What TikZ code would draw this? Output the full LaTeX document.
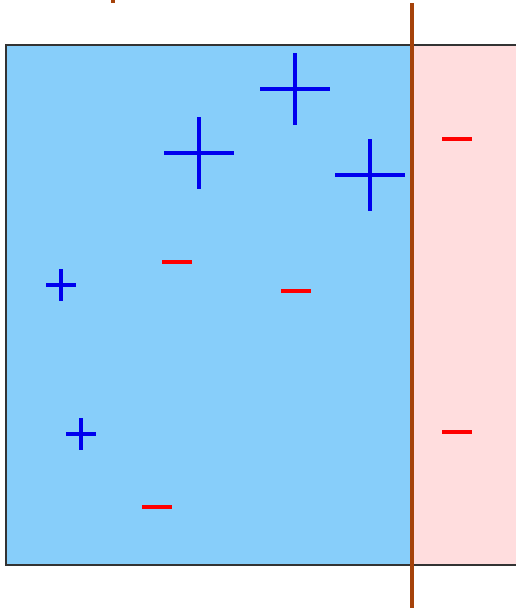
\documentclass[tikz,border=0pt]{standalone}
\definecolor{skyfill}{HTML}{87CEFA}
\definecolor{pinkfill}{HTML}{FFDDDE}
\definecolor{wallbrown}{HTML}{A5420A}
\definecolor{plusblue}{HTML}{0000EE}
\definecolor{minusred}{HTML}{FF0000}
\definecolor{edgegray}{HTML}{333333}
\tikzset{
  pluschg/.style={draw=plusblue, line width=3pt},
  minuschg/.style={draw=minusred, line width=3pt},
}
\newcommand{\bigplus}[2]{\draw[pluschg] (#1-35,#2) -- (#1+35,#2) (#1,#2-36) -- (#1,#2+36);}
\newcommand{\smallplus}[2]{\draw[pluschg] (#1-15,#2) -- (#1+15,#2) (#1,#2-16) -- (#1,#2+16);}
\newcommand{\minussign}[2]{\draw[minuschg] (#1-15,#2) -- (#1+15,#2);}
\begin{document}
\begin{tikzpicture}[x=0.75pt,y=-0.75pt]
\useasboundingbox (0,0) rectangle (516,608);
\begin{scope}
\clip (0,0) rectangle (516,608);
\fill[skyfill] (6,45) rectangle (412,565);
\fill[pinkfill] (412,45) rectangle (520,565);
\draw[edgegray, line width=0.9pt] (520,45) -- (6,45) -- (6,565) -- (520,565);
\fill[wallbrown] (111,-2) rectangle (115,3);
\draw[wallbrown, line width=3.6pt] (412,3) -- (412,612);
\bigplus{295}{89}
\bigplus{199}{153}
\bigplus{370}{175}
\smallplus{61}{285}
\smallplus{81}{434}
\minussign{177}{262}
\minussign{296}{291}
\minussign{457}{139}
\minussign{457}{432}
\minussign{157}{507}
\end{scope}
\end{tikzpicture}
\end{document}
